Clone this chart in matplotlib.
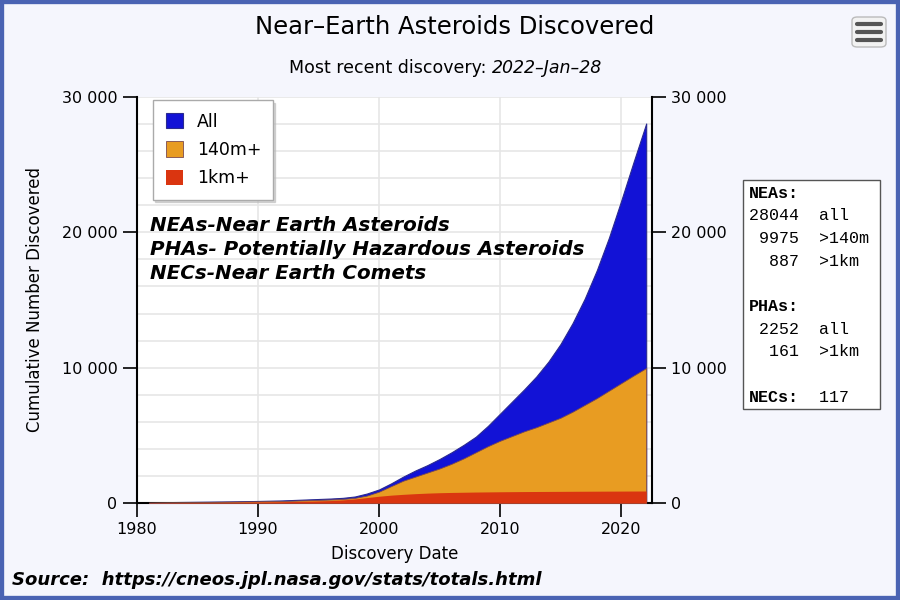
import numpy as np
import matplotlib
matplotlib.use('Agg')
import matplotlib.pyplot as plt
from matplotlib.ticker import FuncFormatter, MultipleLocator
from matplotlib.patches import Rectangle, FancyBboxPatch

# cumulative discoveries
years = [1981, 1982, 1984, 1986, 1988, 1990, 1992, 1994, 1996, 1997, 1998, 1999,
         2000, 2001, 2002, 2003, 2004, 2005, 2006, 2007, 2008, 2009, 2010, 2011,
         2012, 2013, 2014, 2015, 2016, 2017, 2018, 2019, 2020, 2021, 2022.08]
all_neas = [50, 60, 80, 100, 120, 150, 190, 260, 330, 380, 480, 700,
            1000, 1450, 1950, 2400, 2800, 3250, 3750, 4300, 4900, 5700, 6600, 7500,
            8400, 9350, 10450, 11750, 13300, 15100, 17200, 19600, 22300, 25100, 28044]
neas_140m = [40, 50, 65, 80, 100, 120, 150, 200, 260, 300, 380, 550,
             840, 1250, 1650, 1950, 2250, 2550, 2900, 3300, 3750, 4200, 4600, 4950,
             5300, 5600, 5950, 6300, 6750, 7250, 7750, 8300, 8850, 9400, 9975]
neas_1km = [20, 25, 35, 45, 60, 80, 100, 130, 180, 230, 300, 400,
            500, 580, 640, 690, 730, 760, 780, 795, 810, 820, 830, 838,
            845, 850, 855, 860, 865, 869, 873, 877, 880, 884, 887]

series_labels = ['All', '140m+', '1km+']
colors = ['#1212d6', '#e89c22', '#da3510']

stats_lines = ['NEAs:', '28044  all', ' 9975  >140m', '  887  >1km', '',
               'PHAs:', ' 2252  all', '  161  >1km', '', 'NECs:  117']

bg = '#f5f6fd'
fig = plt.figure(figsize=(9, 6), dpi=100, facecolor=bg)
ax = fig.add_axes([137/900, 1-503/600, 515/900, 406/600])
ax.set_facecolor('white')

ax.fill_between(years, 0, all_neas, color=colors[0], edgecolor='#2a2a90', linewidth=0.8, label=series_labels[0], zorder=2)
ax.fill_between(years, 0, neas_140m, color=colors[1], edgecolor='#7a4a50', linewidth=0.6, label=series_labels[1], zorder=3)
ax.fill_between(years, 0, neas_1km, color=colors[2], linewidth=0, label=series_labels[2], zorder=4)

ax.set_xlim(1980, 2022.56)
ax.set_ylim(0, 30000)
ax.xaxis.set_major_locator(MultipleLocator(10))
ax.yaxis.set_major_locator(MultipleLocator(10000))
ax.yaxis.set_minor_locator(MultipleLocator(2000))
fmt = FuncFormatter(lambda v, p: '{:,}'.format(int(v)).replace(',', ' '))
ax.yaxis.set_major_formatter(fmt)
ax.grid(True, which='both', axis='y', color='#e6e6e6', linewidth=1.2, zorder=0)
ax.grid(True, which='major', axis='x', color='#e6e6e6', linewidth=1.2, zorder=0)
ax.set_axisbelow(True)
ax.tick_params(axis='y', which='minor', length=0)
ax.tick_params(axis='both', which='major', length=10, width=1.2, labelsize=11.5, direction='out')
ax.tick_params(axis='y', pad=4)
for s in ['left', 'right', 'bottom']:
    ax.spines[s].set_linewidth(1.5)
ax.spines['top'].set_visible(False)

ax2 = ax.twinx()
ax2.set_ylim(0, 30000)
ax2.yaxis.set_major_locator(MultipleLocator(10000))
ax2.yaxis.set_major_formatter(fmt)
ax2.tick_params(axis='y', length=10, width=1.2, labelsize=11.5)
for s in ['left', 'right', 'bottom', 'top']:
    ax2.spines[s].set_visible(False)
ax.spines['right'].set_visible(True)

ax.set_xlabel('Discovery Date', fontsize=12, labelpad=6)
ax.set_ylabel('Cumulative Number Discovered', fontsize=12, labelpad=13)

leg = ax.legend(loc='upper left', bbox_to_anchor=(0.025, 1.0), fontsize=12.5, frameon=True,
                fancybox=False, edgecolor='#aaaaaa',
                shadow={'color': '#bbbbbb', 'alpha': 0.6, 'ox': 1.5, 'oy': -1.5},
                handlelength=1.0, handleheight=1.0, borderpad=0.7, labelspacing=0.6,
                handletextpad=0.8, borderaxespad=0.2)
leg.get_frame().set_linewidth(1.0)
leg.set_zorder(10)

notes = ['NEAs-Near Earth Asteroids', 'PHAs- Potentially Hazardous Asteroids', 'NECs-Near Earth Comets']
for i, t in enumerate(notes):
    ax.text(0.025, 0.683 - i*0.059, t, transform=ax.transAxes, fontsize=14.3,
            fontweight='bold', style='italic', va='center', zorder=11)

fig.text(0.505, 0.955, 'Near\u2013Earth Asteroids Discovered', ha='center', va='center', fontsize=17.5)
fig.text(0.547, 0.886, 'Most recent discovery: ', ha='right', va='center', fontsize=12.5)
fig.text(0.547, 0.886, '2022\u2013Jan\u201328', ha='left', va='center', fontsize=12.5, style='italic')

# stats box
fig.patches.append(Rectangle((743/900, 1-409/600), 137/900, 229/600, transform=fig.transFigure,
                             facecolor='white', edgecolor='#555555', linewidth=1.0))
cw = 0.6 * 12 / 72 * 100  # monospace char width in px
for i, line in enumerate(stats_lines):
    y = 1 - (193 + i*22.7)/600
    if line.endswith(':') or line.startswith('NECs'):
        head, rest = line.split(':', 1)
        fig.text(749/900, y, head + ':', fontsize=12, family='Liberation Mono',
                 fontweight='bold', va='center')
        if rest:
            fig.text((749 + 5*cw)/900, y, rest, fontsize=12, family='Liberation Mono', va='center')
    else:
        fig.text(749/900, y, line, fontsize=12, family='Liberation Mono', va='center')

fig.text(12/900, 1-580/600, 'Source:  https://cneos.jpl.nasa.gov/stats/totals.html',
         fontsize=13, fontweight='bold', style='italic', va='center')

# menu button
fig.patches.append(FancyBboxPatch((852/900, 1-47/600), 34/900, 30/600, boxstyle='round,pad=0,rounding_size=0.006',
                                  transform=fig.transFigure, facecolor='#f2f2f2', edgecolor='#bbbbbb', linewidth=1))
for yy in [24, 32, 40]:
    fig.lines.append(plt.Line2D([857/900, 881/900], [1-yy/600, 1-yy/600], transform=fig.transFigure,
                                color='#555555', linewidth=3, solid_capstyle='round'))

# outer border
fig.patches.append(Rectangle((0, 0), 1, 1, transform=fig.transFigure, fill=False,
                             edgecolor='#4a63b3', linewidth=6))

fig.savefig('out.png', dpi=100, facecolor=bg)
